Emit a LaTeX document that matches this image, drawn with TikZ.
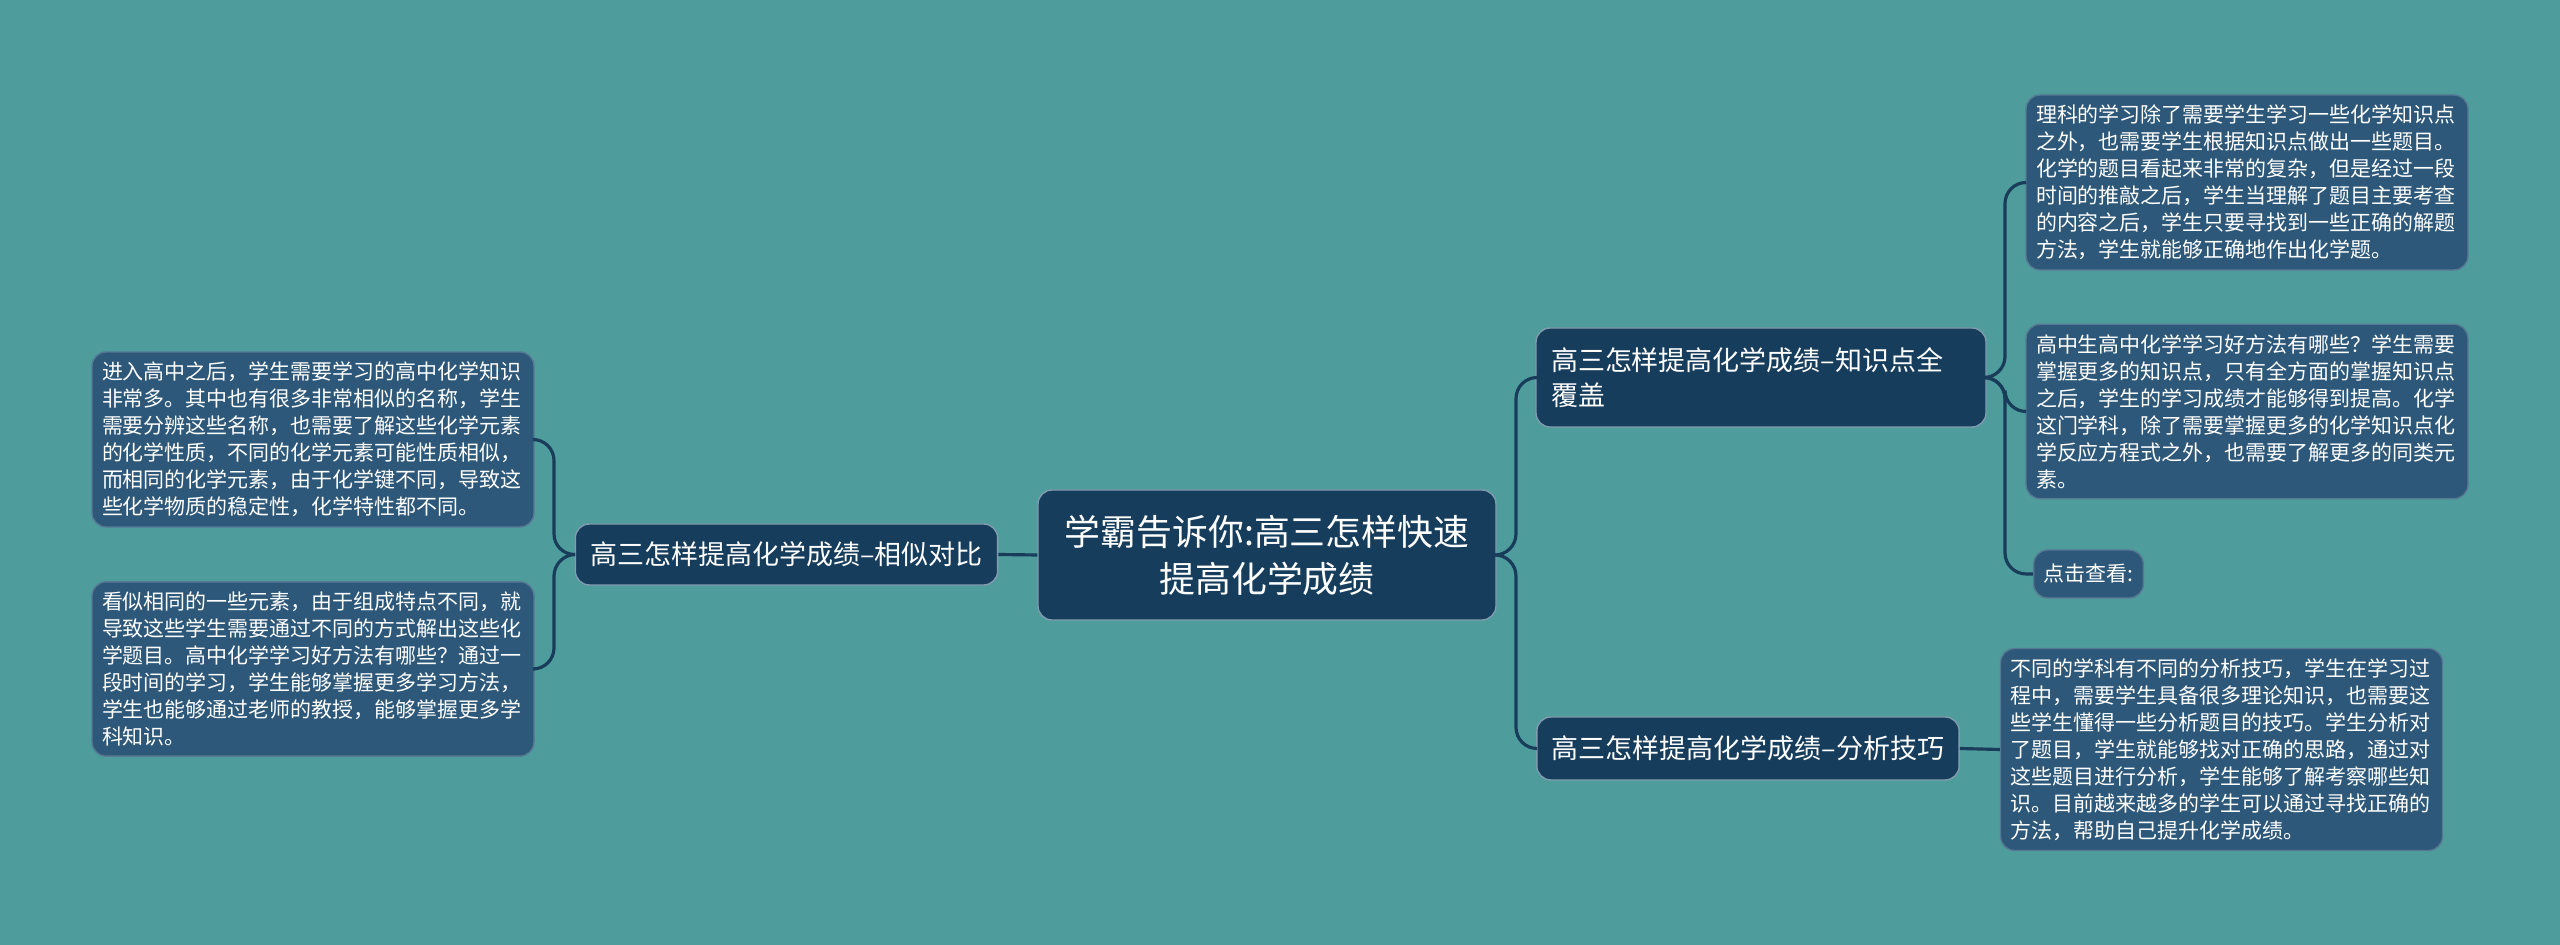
\documentclass[tikz,border=0pt]{standalone}
\usepackage{fontspec}
\setmainfont{Noto Sans CJK SC}
\definecolor{mapbg}{RGB}{78, 156, 156}
\definecolor{mapnavy}{RGB}{23, 61, 93}
\definecolor{mapleaf}{RGB}{45, 88, 121}
\definecolor{mapedge}{RGB}{24, 60, 90}

\begin{document}
\begin{tikzpicture}[
    root/.style={fill=mapnavy, draw=mapleaf!60, line width=0.4pt,
                 rounded corners=4pt, text=white, align=center,
                 minimum width=4.58cm, minimum height=1.30cm,
                 font=\fontsize{10.2pt}{13.4pt}\selectfont},
    topic/.style={fill=mapnavy, draw=mapleaf!60, line width=0.4pt,
                  rounded corners=4pt, text=white, inner xsep=0.15cm,
                  font=\fontsize{7.68pt}{9.96pt}\selectfont},
    leaf/.style={fill=mapleaf, draw=mapleaf!80!white, line width=0.4pt,
                 rounded corners=4pt, text=white, align=left,
                 text width=4.22cm, inner xsep=0.1cm, inner ysep=0.1cm,
                 font=\fontsize{5.97pt}{7.68pt}\selectfont},
    edge/.style={draw=mapedge, line width=0.9pt, rounded corners=6pt},
]

% ================================================================
% BACKGROUND
% ================================================================
\fill[mapbg] (0,0) rectangle (25.6,-9.45);
\useasboundingbox (0,0) rectangle (25.6,-9.45);

% ================================================================
% ROOT
% ================================================================
\node[root] (root) at (12.67,-5.55)
  {学霸告诉你:高三怎样快速\\提高化学成绩};

% ================================================================
% LEFT BRANCH -- similar names
% ================================================================
\node[topic, minimum height=0.61cm] (sim) at (7.865,-5.545)
  {高三怎样提高化学成绩–相似对比};

\node[leaf] (lf1) at (3.13,-4.395) {%
进入高中之后，学生需要学习的高中化学知识\\
非常多。其中也有很多非常相似的名称，学生\\
需要分辨这些名称，也需要了解这些化学元素\\
的化学性质，不同的化学元素可能性质相似，\\
而相同的化学元素，由于化学键不同，导致这\\
些化学物质的稳定性，化学特性都不同。};

\node[leaf] (lf2) at (3.13,-6.69) {%
看似相同的一些元素，由于组成特点不同，就\\
导致这些学生需要通过不同的方式解出这些化\\
学题目。高中化学学习好方法有哪些？通过一\\
段时间的学习，学生能够掌握更多学习方法，\\
学生也能够通过老师的教授，能够掌握更多学\\
科知识。};

\coordinate (lj) at (5.54,-5.55); % junction left of sim

\draw[edge] (root.west) -- (sim.east);
\draw[edge] (sim.west) -- (lj) |- (lf1.east);
\draw[edge] (sim.west) -- (lj) |- (lf2.east);

% ================================================================
% RIGHT BRANCH 1 -- knowledge coverage
% ================================================================
\node[topic, text width=4.2cm, align=left, minimum height=0.99cm]
  (know) at (17.61,-3.775)
  {高三怎样提高化学成绩–知识点全\\覆盖};

\node[leaf] (r1) at (22.47,-1.825) {%
理科的学习除了需要学生学习一些化学知识点\\
之外，也需要学生根据知识点做出一些题目。\\
化学的题目看起来非常的复杂，但是经过一段\\
时间的推敲之后，学生当理解了题目主要考查\\
的内容之后，学生只要寻找到一些正确的解题\\
方法，学生就能够正确地作出化学题。};

\node[leaf] (r2) at (22.47,-4.115) {%
高中生高中化学学习好方法有哪些？学生需要\\
掌握更多的知识点，只有全方面的掌握知识点\\
之后，学生的学习成绩才能够得到提高。化学\\
这门学科，除了需要掌握更多的化学知识点化\\
学反应方程式之外，也需要了解更多的同类元\\
素。};

\node[leaf, text width=, minimum height=0.48cm] (r3) at (20.885,-5.74)
  {点击查看:};

% ================================================================
% RIGHT BRANCH 2 -- analysis skills
% ================================================================
\node[topic, minimum height=0.63cm] (skill) at (17.48,-7.485)
  {高三怎样提高化学成绩–分析技巧};

\node[leaf] (b1) at (22.215,-7.495) {%
不同的学科有不同的分析技巧，学生在学习过\\
程中，需要学生具备很多理论知识，也需要这\\
些学生懂得一些分析题目的技巧。学生分析对\\
了题目，学生就能够找对正确的思路，通过对\\
这些题目进行分析，学生能够了解考察哪些知\\
识。目前越来越多的学生可以通过寻找正确的\\
方法，帮助自己提升化学成绩。};

% ================================================================
% RIGHT CONNECTORS
% ================================================================
\coordinate (rj) at (15.16,-5.55); % junction right of root
\coordinate (kj) at (20.05,-3.775); % junction right of know

\draw[edge] (root.east) -- (rj) |- (know.west);
\draw[edge] (root.east) -- (rj) |- (skill.west);
\draw[edge] (know.east) -- (kj) |- (r1.west);
\draw[edge] (know.east) -- (kj) |- (r2.west);
\draw[edge] (know.east) -- (kj) |- (r3.west);
\draw[edge] (skill.east) -- (b1.west);

\end{tikzpicture}
\end{document}
